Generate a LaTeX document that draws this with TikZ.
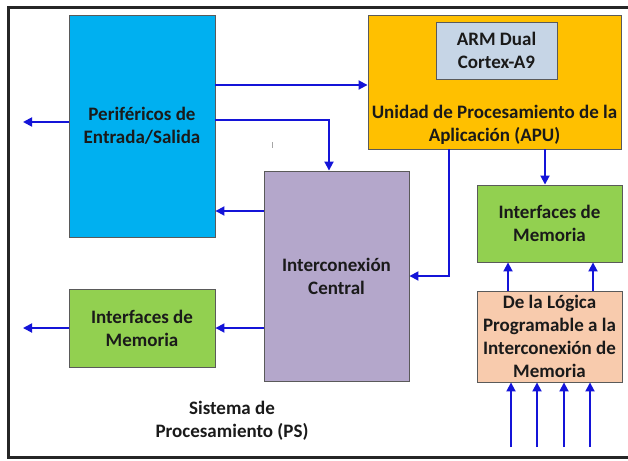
\documentclass[tikz,border=0pt]{standalone}
\usepackage{fontspec}
\setmainfont{Carlito}
\usetikzlibrary{arrows.meta}
\definecolor{cyanbox}{HTML}{00B0F0}
\definecolor{orangebox}{HTML}{FFC000}
\definecolor{armbox}{HTML}{C6D5E6}
\definecolor{purplebox}{HTML}{B4A7CB}
\definecolor{greenbox}{HTML}{92D050}
\definecolor{peachbox}{HTML}{F8CBAD}
\definecolor{edgegray}{HTML}{5A5A5A}
\definecolor{arrowblue}{HTML}{1414D8}
\definecolor{txt}{HTML}{1A1A1A}
\tikzset{
  blockbox/.style={draw=edgegray, line width=0.9pt, inner sep=0pt, align=center,
    font=\bfseries\fontsize{19}{23}\selectfont, text=txt},
  plaintext/.style={inner sep=0pt, align=center, font=\bfseries\fontsize{19}{23}\selectfont, text=txt},
  arr/.style={draw=arrowblue, line width=1.8pt, -{Triangle[length=9pt,width=9pt]}},
}
\begin{document}
\begin{tikzpicture}[x=1pt,y=-1pt]
\useasboundingbox (0,0) rectangle (628,460);
\fill[white] (0,0) rectangle (628,460);
\begin{scope}
\clip (0,0) rectangle (628,460);
\draw[line width=3pt, black!85] (8,7.5) rectangle (640,457);
\end{scope}

% helper coordinates
\coordinate (y85) at (0,85);
\coordinate (y120) at (0,120);
\coordinate (y122) at (0,122);
\coordinate (y211) at (0,211);
\coordinate (y328) at (0,328);
\coordinate (x329) at (329,0);
\coordinate (x449) at (449,0);
\coordinate (x545) at (545,0);
\coordinate (x508) at (508,0);
\coordinate (x593) at (593,0);
\coordinate (outL1) at (23,122);
\coordinate (outL2) at (23,328);
\coordinate (in1) at (511,447);
\coordinate (in2) at (537,447);
\coordinate (in3) at (564,447);
\coordinate (in4) at (590,447);

% boxes
\node[blockbox, fill=cyanbox, minimum width=146pt, minimum height=222pt] (per) at (142,126) {Periféricos de\\Entrada/Salida};
\node[blockbox, fill=orangebox, minimum width=253pt, minimum height=134pt] (apu) at (494.5,82) {};
\node[blockbox, fill=armbox, minimum width=121pt, minimum height=57pt] (arm) at (496.5,50.5) {ARM Dual\\Cortex-A9};
\node[plaintext] (apulabel) at (494.5,125) {Unidad de Procesamiento de la\\Aplicación (APU)};
\node[blockbox, fill=purplebox, minimum width=145pt, minimum height=210pt] (ic) at (336.5,276) {Interconexión\\Central};
\node[blockbox, fill=greenbox, minimum width=146pt, minimum height=78pt] (iml) at (142,328) {Interfaces de\\Memoria};
\node[blockbox, fill=greenbox, minimum width=145pt, minimum height=77pt] (imr) at (549.5,223.5) {Interfaces de\\Memoria};
\node[blockbox, fill=peachbox, minimum width=145pt, minimum height=91pt] (dlp) at (549.5,336.5) {De la Lógica\\Programable a la\\Interconexión de\\Memoria};
\node[plaintext] (ps) at (232,421) {Sistema de\\Procesamiento (PS)};

% stray tick
\draw[gray!70, line width=0.8pt] (272,142) -- (272,148);

% connectors
\draw[arr] (per.east |- y85) -- (apu.west |- y85);
\draw[arr] (per.east |- y120) -| (ic.north -| x329);
\draw[arr] (per.west |- y122) -- (outL1);
\draw[arr] (ic.west |- y211) -- (per.east |- y211);
\draw[arr] (apu.south -| x449) |- (ic.east);
\draw[arr] (apu.south -| x545) -- (imr.north -| x545);
\draw[arr] (ic.west |- y328) -- (iml.east |- y328);
\draw[arr] (iml.west |- y328) -- (outL2);
\draw[arr] (dlp.north -| x508) -- (imr.south -| x508);
\draw[arr] (dlp.north -| x593) -- (imr.south -| x593);
\draw[arr] (in1) -- (dlp.south -| in1);
\draw[arr] (in2) -- (dlp.south -| in2);
\draw[arr] (in3) -- (dlp.south -| in3);
\draw[arr] (in4) -- (dlp.south -| in4);
\end{tikzpicture}
\end{document}
